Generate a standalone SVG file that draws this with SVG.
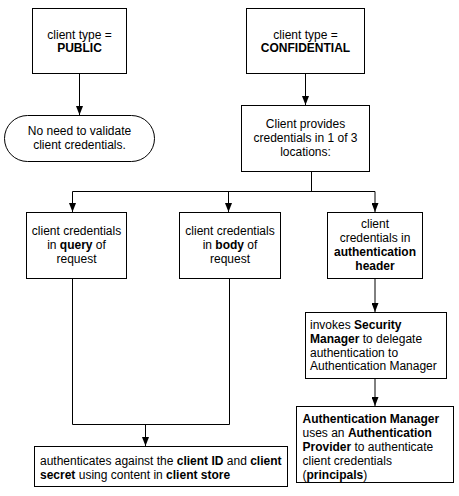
<svg xmlns="http://www.w3.org/2000/svg" width="459" height="496" viewBox="0 0 459 496">
<style>
.box{fill:#fff;stroke:#000;stroke-width:1}
.t{font-family:"Liberation Sans",Arial,sans-serif;font-size:12px;fill:#000}
.c{text-anchor:middle}
.b{font-weight:bold}
.ln{fill:none;stroke:#000;stroke-width:1}
</style>
<defs>
<marker id="ah" markerUnits="userSpaceOnUse" markerWidth="9" markerHeight="7" refX="9" refY="3.5" orient="auto">
<path d="M0,0 L9,3.5 L0,7 z" fill="#000"/>
</marker>
</defs>
<rect width="459" height="496" fill="#fff"/>
<g id="connectors">
<line class="ln" x1="79.5" y1="74" x2="79.5" y2="115" marker-end="url(#ah)"/>
<line class="ln" x1="305.5" y1="74" x2="305.5" y2="105" marker-end="url(#ah)"/>
<polyline class="ln" points="311.5,171.5 311.5,191.5"/>
<polyline class="ln" points="72.5,191.5 375,191.5"/>
<line class="ln" x1="72.5" y1="191.5" x2="72.5" y2="212" marker-end="url(#ah)"/>
<line class="ln" x1="228.5" y1="191.5" x2="228.5" y2="212" marker-end="url(#ah)"/>
<line class="ln" x1="375" y1="191.5" x2="375" y2="212" marker-end="url(#ah)"/>
<polyline class="ln" points="72.5,278.5 72.5,424.5 229.5,424.5 229.5,278.5"/>
<line class="ln" x1="145.5" y1="424.5" x2="145.5" y2="446" marker-end="url(#ah)"/>
<line class="ln" x1="375" y1="278.5" x2="375" y2="312" marker-end="url(#ah)"/>
<line class="ln" x1="375" y1="378.5" x2="375" y2="406" marker-end="url(#ah)"/>
</g>
<g id="public">
<rect class="box" x="32.5" y="8.5" width="94" height="65"/>
<text class="t c" x="79.5" y="38.6">client type =</text>
<text class="t c b" x="79.5" y="52.2">PUBLIC</text>
</g>
<g id="novalidate">
<rect class="box" x="4.5" y="115.5" width="150" height="46" rx="23" ry="23"/>
<text class="t c" x="79.5" y="135">No need to validate</text>
<text class="t c" x="79.5" y="148.6">client credentials.</text>
</g>
<g id="confidential">
<rect class="box" x="246.5" y="8.5" width="118" height="65"/>
<text class="t c" x="305.5" y="38.6">client type =</text>
<text class="t c b" x="305.5" y="52.2">CONFIDENTIAL</text>
</g>
<g id="provides">
<rect class="box" x="241.5" y="105.5" width="128" height="66"/>
<text class="t c" x="305.5" y="128.3">Client provides</text>
<text class="t c" x="305.5" y="142">credentials in 1 of 3</text>
<text class="t c" x="305.5" y="156.3">locations:</text>
</g>
<g id="query">
<rect class="box" x="26.5" y="212.5" width="100" height="66"/>
<text class="t c" x="76.5" y="235.3">client credentials</text>
<text class="t c" x="76.5" y="249.3">in <tspan class="b">query</tspan> of</text>
<text class="t c" x="76.5" y="263.3">request</text>
</g>
<g id="body">
<rect class="box" x="179.5" y="212.5" width="101" height="66"/>
<text class="t c" x="230" y="235.3">client credentials</text>
<text class="t c" x="230" y="249.3">in <tspan class="b">body</tspan> of</text>
<text class="t c" x="230" y="263.3">request</text>
</g>
<g id="header">
<rect class="box" x="327.5" y="212.5" width="95" height="66"/>
<text class="t c" x="375" y="228.3">client</text>
<text class="t c" x="375" y="242.3">credentials in</text>
<text class="t c b" x="375" y="256.3">authentication</text>
<text class="t c b" x="375" y="270.3">header</text>
</g>
<g id="clientstore">
<rect class="box" x="34.5" y="446.5" width="253" height="40"/>
<text class="t" x="40" y="465.3">authenticates against the <tspan class="b">client ID</tspan> and <tspan class="b">client</tspan></text>
<text class="t" x="40" y="478.8"><tspan class="b">secret</tspan> using content in <tspan class="b">client store</tspan></text>
</g>
<g id="security">
<rect class="box" x="305.5" y="312.5" width="141" height="66"/>
<text class="t" x="310" y="329.3">invokes <tspan class="b">Security</tspan></text>
<text class="t" x="310" y="342.8"><tspan class="b">Manager</tspan> to delegate</text>
<text class="t" x="310" y="356.6">authentication to</text>
<text class="t" x="310" y="370.3">Authentication Manager</text>
</g>
<g id="authmanager">
<rect class="box" x="296.5" y="406.5" width="157" height="76"/>
<text class="t b" x="302.5" y="423.3">Authentication Manager</text>
<text class="t" x="302.5" y="437">uses an <tspan class="b">Authentication</tspan></text>
<text class="t" x="302.5" y="451"><tspan class="b">Provider</tspan> to authenticate</text>
<text class="t" x="302.5" y="465">client credentials</text>
<text class="t" x="302.5" y="479.3">(<tspan class="b">principals</tspan>)</text>
</g>
</svg>
